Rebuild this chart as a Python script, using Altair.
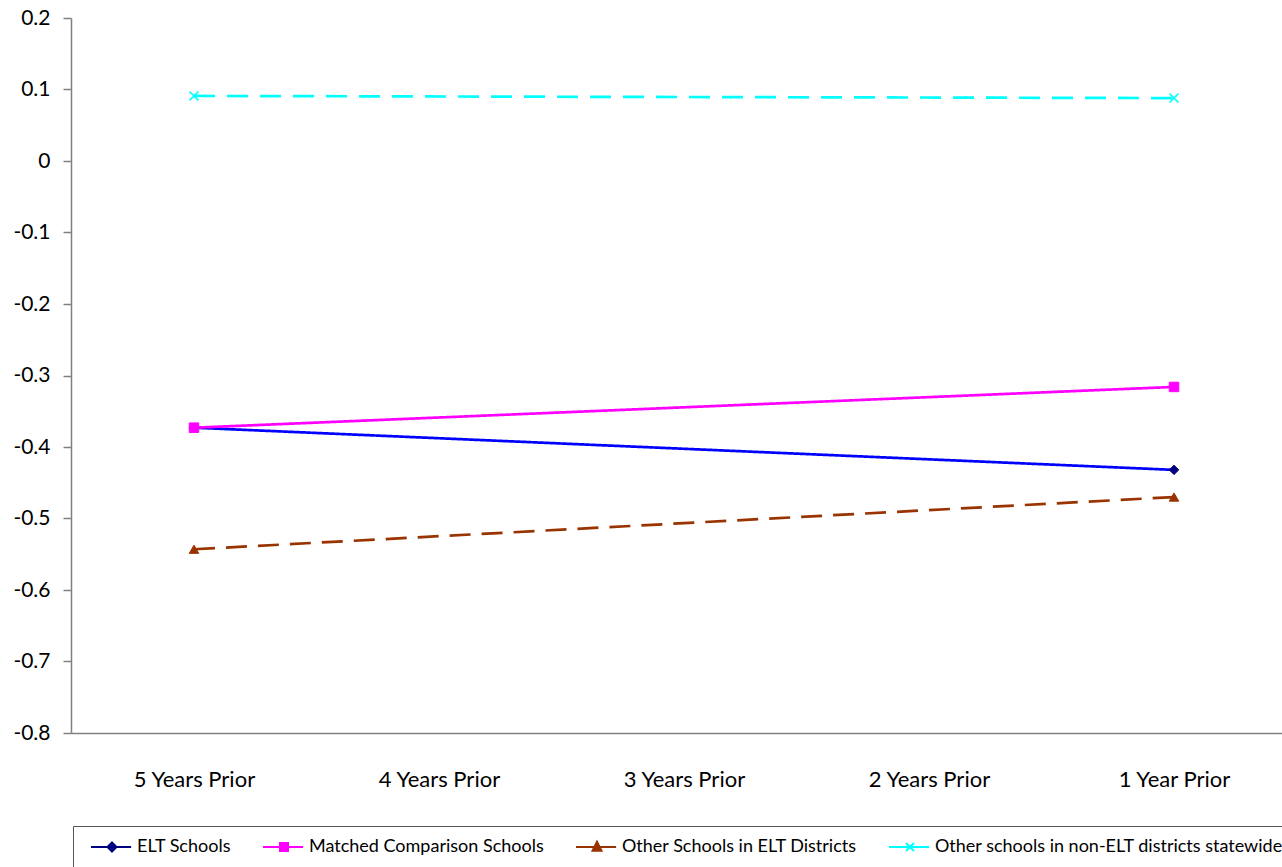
import altair as alt
import pandas as pd

categories = ["5 Years Prior", "4 Years Prior", "3 Years Prior", "2 Years Prior", "1 Year Prior"]
periods = ["5 Years Prior", "1 Year Prior"]
series = [
    "ELT Schools",
    "Matched Comparison Schools",
    "Other Schools in ELT Districts",
    "Other schools in non-ELT districts statewide",
]
elt_values = [-0.373, -0.432]
matched_values = [-0.373, -0.316]
other_elt_values = [-0.543, -0.470]
non_elt_values = [0.091, 0.088]
y_ticks = [-0.8, -0.7, -0.6, -0.5, -0.4, -0.3, -0.2, -0.1, 0.0, 0.1, 0.2]

rows = []
for name, vals in zip(series, [elt_values, matched_values, other_elt_values, non_elt_values]):
    for p, v in zip(periods, vals):
        rows.append({"series": name, "period": p, "value": v})
df = pd.DataFrame(rows)

FONT = "Lato"
line_colors = ["#0000FF", "#FF00FF", "#993300", "#00FFFF"]
line_dashes = [[1, 0], [1, 0], [21, 11], [21, 12]]
marker_fill = ["#000080", "#FF00FF", "#993300", "transparent"]
marker_stroke = ["#000080", "#FF00FF", "#993300", "#00FFFF"]
marker_shapes = ["diamond", "square", "triangle-up", "M-1,-1L1,1M-1,1L1,-1"]
marker_filled = [True, True, True, False]
legend_shapes = [
    "M-0.43,0H5.3M2.57,-0.64L3.21,0L2.57,0.64L1.93,0Z",
    "M-0.43,0H5.3M2,-0.57H3.14V0.57H2Z",
    "M-0.43,0H5.3M2.57,-0.75L3.21,0.55H1.93Z",
    "M-0.43,0H5.3M2,-0.57L3.14,0.57M2,0.57L3.14,-0.57",
]

x_enc = alt.X(
    "period:N",
    sort=categories,
    scale=alt.Scale(domain=categories, type="point", padding=0.4714, align=0.5325),
    axis=alt.Axis(
        title=None, labelAngle=0, ticks=False, labelPadding=36, labelFontSize=22,
        labelFont=FONT, labelColor="black", domainColor="#808080", domainWidth=1.5, grid=False,
    ),
)
y_enc = alt.Y(
    "value:Q",
    scale=alt.Scale(domain=[-0.8, 0.2], nice=False, zero=False),
    axis=alt.Axis(
        title=None, values=y_ticks, labelFontSize=21, labelFont=FONT, labelColor="black",
        labelExpr="replace(format(datum.value, '.1~f'), '\u2212', '-')",
        tickSize=8, tickColor="#808080", tickWidth=1.5, domainColor="#808080", domainWidth=1.5,
        labelPadding=13, grid=False,
    ),
)

base = alt.Chart(df)

line_layers = []
point_layers = []
for name, lc, dash, shp, fc, sc, fl in zip(series, line_colors, line_dashes, marker_shapes,
                                           marker_fill, marker_stroke, marker_filled):
    line_layers.append(
        base.mark_line(strokeWidth=2.7, color=lc, strokeDash=dash)
        .encode(x=x_enc, y=y_enc)
        .transform_filter(alt.datum.series == name)
    )
    if fl:
        m = base.mark_point(shape=shp, filled=True, fill=fc, stroke=sc, strokeWidth=1, size=90, opacity=1)
    else:
        m = base.mark_point(shape=shp, filled=False, stroke=sc, strokeWidth=1.6, size=80, opacity=1)
    point_layers.append(m.encode(x=x_enc, y=y_enc).transform_filter(alt.datum.series == name))

leg = alt.Legend(
    orient="none", legendX=2, legendY=808, direction="horizontal", columns=4, title=None,
    symbolSize=196, symbolStrokeWidth=2, symbolOpacity=1, labelOffset=34, labelFontSize=18,
    labelFont=FONT, labelColor="black", labelLimit=600, columnPadding=26, padding=12,
    strokeColor="#555555",
)
legend_layer = base.mark_point(filled=True).encode(
    x=x_enc,
    y=y_enc,
    fill=alt.Fill("series:N", scale=alt.Scale(domain=series, range=marker_fill), legend=leg),
    stroke=alt.Stroke("series:N", scale=alt.Scale(domain=series, range=marker_stroke), legend=leg),
    shape=alt.Shape("series:N", scale=alt.Scale(domain=series, range=legend_shapes), legend=leg),
).transform_filter(alt.datum.value > 100)

chart = alt.layer(*line_layers, *point_layers, legend_layer).properties(
    width=1211,
    height=715,
    autosize=alt.AutoSizeParams(type="none"),
    padding={"left": 71, "top": 18, "right": 0, "bottom": 134},
    background="white",
).configure_view(stroke=None)

chart.save("out.html", embed_options={"renderer": "svg", "actions": False})
